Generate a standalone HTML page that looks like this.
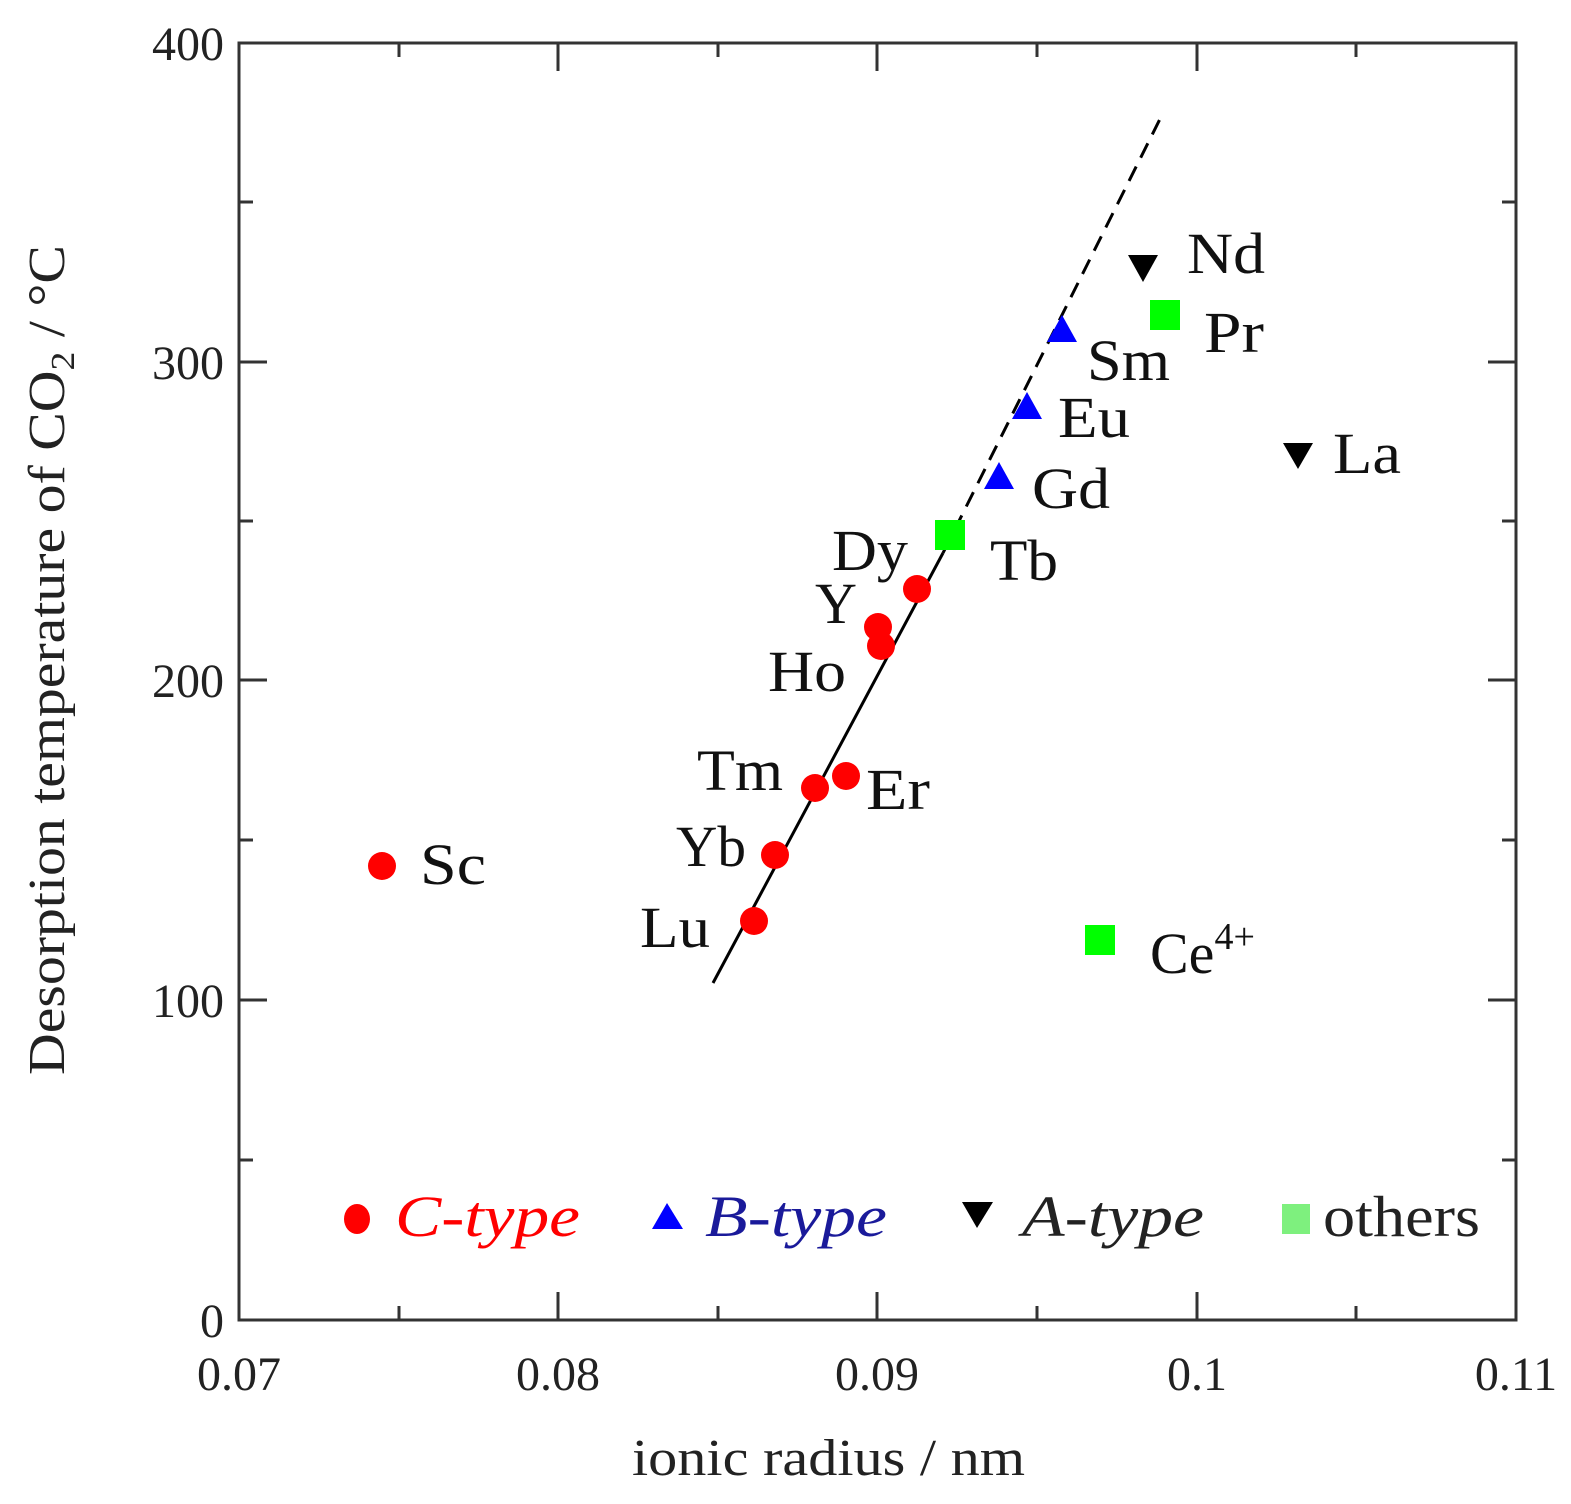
<!DOCTYPE html>
<html><head><style>body{margin:0;background:#fff}svg{display:block}</style></head><body>
<svg width="1571" height="1504" xmlns="http://www.w3.org/2000/svg" font-family="Liberation Serif, serif">
<rect width="1571" height="1504" fill="#fff"/>
<g stroke="#333" stroke-width="3" fill="none">
<rect x="239" y="43" width="1277" height="1277"/>
<path d="M239 1160h14M239 1000h28M239 840h14M239 680h28M239 521h14M239 362h28M239 202h14
M1516 1160h-14M1516 1000h-28M1516 840h-14M1516 680h-28M1516 521h-14M1516 362h-28M1516 202h-14
M399 1320v-14M558 1320v-28M718 1320v-14M877 1320v-28M1037 1320v-14M1197 1320v-28M1356 1320v-14
M399 43v14M558 43v28M718 43v14M877 43v28M1037 43v14M1197 43v28M1356 43v14"/>
</g>
<g font-size="48" fill="#222" text-anchor="end">
<text x="224" y="1337">0</text><text x="224" y="1017">100</text><text x="224" y="697">200</text><text x="224" y="379">300</text><text x="224" y="60">400</text>
</g>
<g font-size="48" fill="#222" text-anchor="middle">
<text x="239" y="1390">0.07</text><text x="558" y="1390">0.08</text><text x="877" y="1390">0.09</text><text x="1197" y="1390">0.1</text><text x="1516" y="1390">0.11</text>
</g>
<text x="632" y="1475" font-size="52" fill="#222" textLength="393" lengthAdjust="spacingAndGlyphs">ionic radius / nm</text>
<text transform="translate(64,1075) rotate(-90)" font-size="52" fill="#222" textLength="830" lengthAdjust="spacingAndGlyphs">Desorption temperature of CO<tspan font-size="34" dy="10">2</tspan><tspan dy="-10"> / °C</tspan></text>
<line x1="713" y1="983" x2="943" y2="553" stroke="#000" stroke-width="3"/>
<line x1="943" y1="553" x2="1162" y2="115" stroke="#000" stroke-width="3" stroke-dasharray="16,10"/>
<g fill="#f00">
<circle cx="917" cy="589" r="14"/><circle cx="878" cy="627" r="14"/><circle cx="881" cy="646" r="14"/>
<circle cx="815" cy="788" r="14"/><circle cx="846" cy="776" r="14"/><circle cx="775" cy="855" r="14"/>
<circle cx="754" cy="921" r="14"/><circle cx="382" cy="866" r="14"/>
<ellipse cx="357" cy="1219" rx="13" ry="15"/>
</g>
<g fill="#00f">
<polygon points="1062,315 1047,342 1077,342"/><polygon points="1027,392 1012,419 1042,419"/><polygon points="999,462 984,489 1014,489"/>
<polygon points="667,1203 652,1229 683,1229"/>
</g>
<g fill="#000">
<polygon points="1128,255 1158,255 1143,282"/><polygon points="1283,443 1313,443 1298,469"/>
<polygon points="962,1202 993,1202 977,1228"/>
</g>
<g fill="#0f0">
<rect x="1150" y="300" width="30" height="30"/><rect x="935" y="520" width="30" height="30"/><rect x="1085" y="925" width="30" height="30"/>
<rect x="1282" y="1204" width="28" height="30" fill="#7ef07e"/>
</g>
<g font-size="58" fill="#111">
<text x="1187" y="273" textLength="78" lengthAdjust="spacingAndGlyphs">Nd</text>
<text x="1204" y="352" textLength="60" lengthAdjust="spacingAndGlyphs">Pr</text>
<text x="1087" y="380" textLength="83" lengthAdjust="spacingAndGlyphs">Sm</text>
<text x="1058" y="437" textLength="72" lengthAdjust="spacingAndGlyphs">Eu</text>
<text x="1032" y="508" textLength="78" lengthAdjust="spacingAndGlyphs">Gd</text>
<text x="1333" y="473" textLength="68" lengthAdjust="spacingAndGlyphs">La</text>
<text x="990" y="580" textLength="68" lengthAdjust="spacingAndGlyphs">Tb</text>
<text x="832" y="570" textLength="76" lengthAdjust="spacingAndGlyphs">Dy</text>
<text x="815" y="623" textLength="42" lengthAdjust="spacingAndGlyphs">Y</text>
<text x="768" y="691" textLength="78" lengthAdjust="spacingAndGlyphs">Ho</text>
<text x="697" y="790" textLength="86" lengthAdjust="spacingAndGlyphs">Tm</text>
<text x="866" y="809" textLength="64" lengthAdjust="spacingAndGlyphs">Er</text>
<text x="676" y="866" textLength="70" lengthAdjust="spacingAndGlyphs">Yb</text>
<text x="640" y="947" textLength="70" lengthAdjust="spacingAndGlyphs">Lu</text>
<text x="420" y="884" textLength="66" lengthAdjust="spacingAndGlyphs">Sc</text>
<text x="1150" y="973">Ce<tspan font-size="38" dy="-24">4+</tspan></text>
</g>
<g font-size="58" font-style="italic">
<text x="395" y="1236" fill="#f00" textLength="185" lengthAdjust="spacingAndGlyphs">C-type</text>
<text x="705" y="1236" fill="#1a1a9a" textLength="182" lengthAdjust="spacingAndGlyphs">B-type</text>
<text x="1022" y="1236" fill="#222" textLength="182" lengthAdjust="spacingAndGlyphs">A-type</text>
</g>
<text x="1323" y="1236" font-size="58" fill="#222" textLength="157" lengthAdjust="spacingAndGlyphs">others</text>
</svg>
</body></html>
